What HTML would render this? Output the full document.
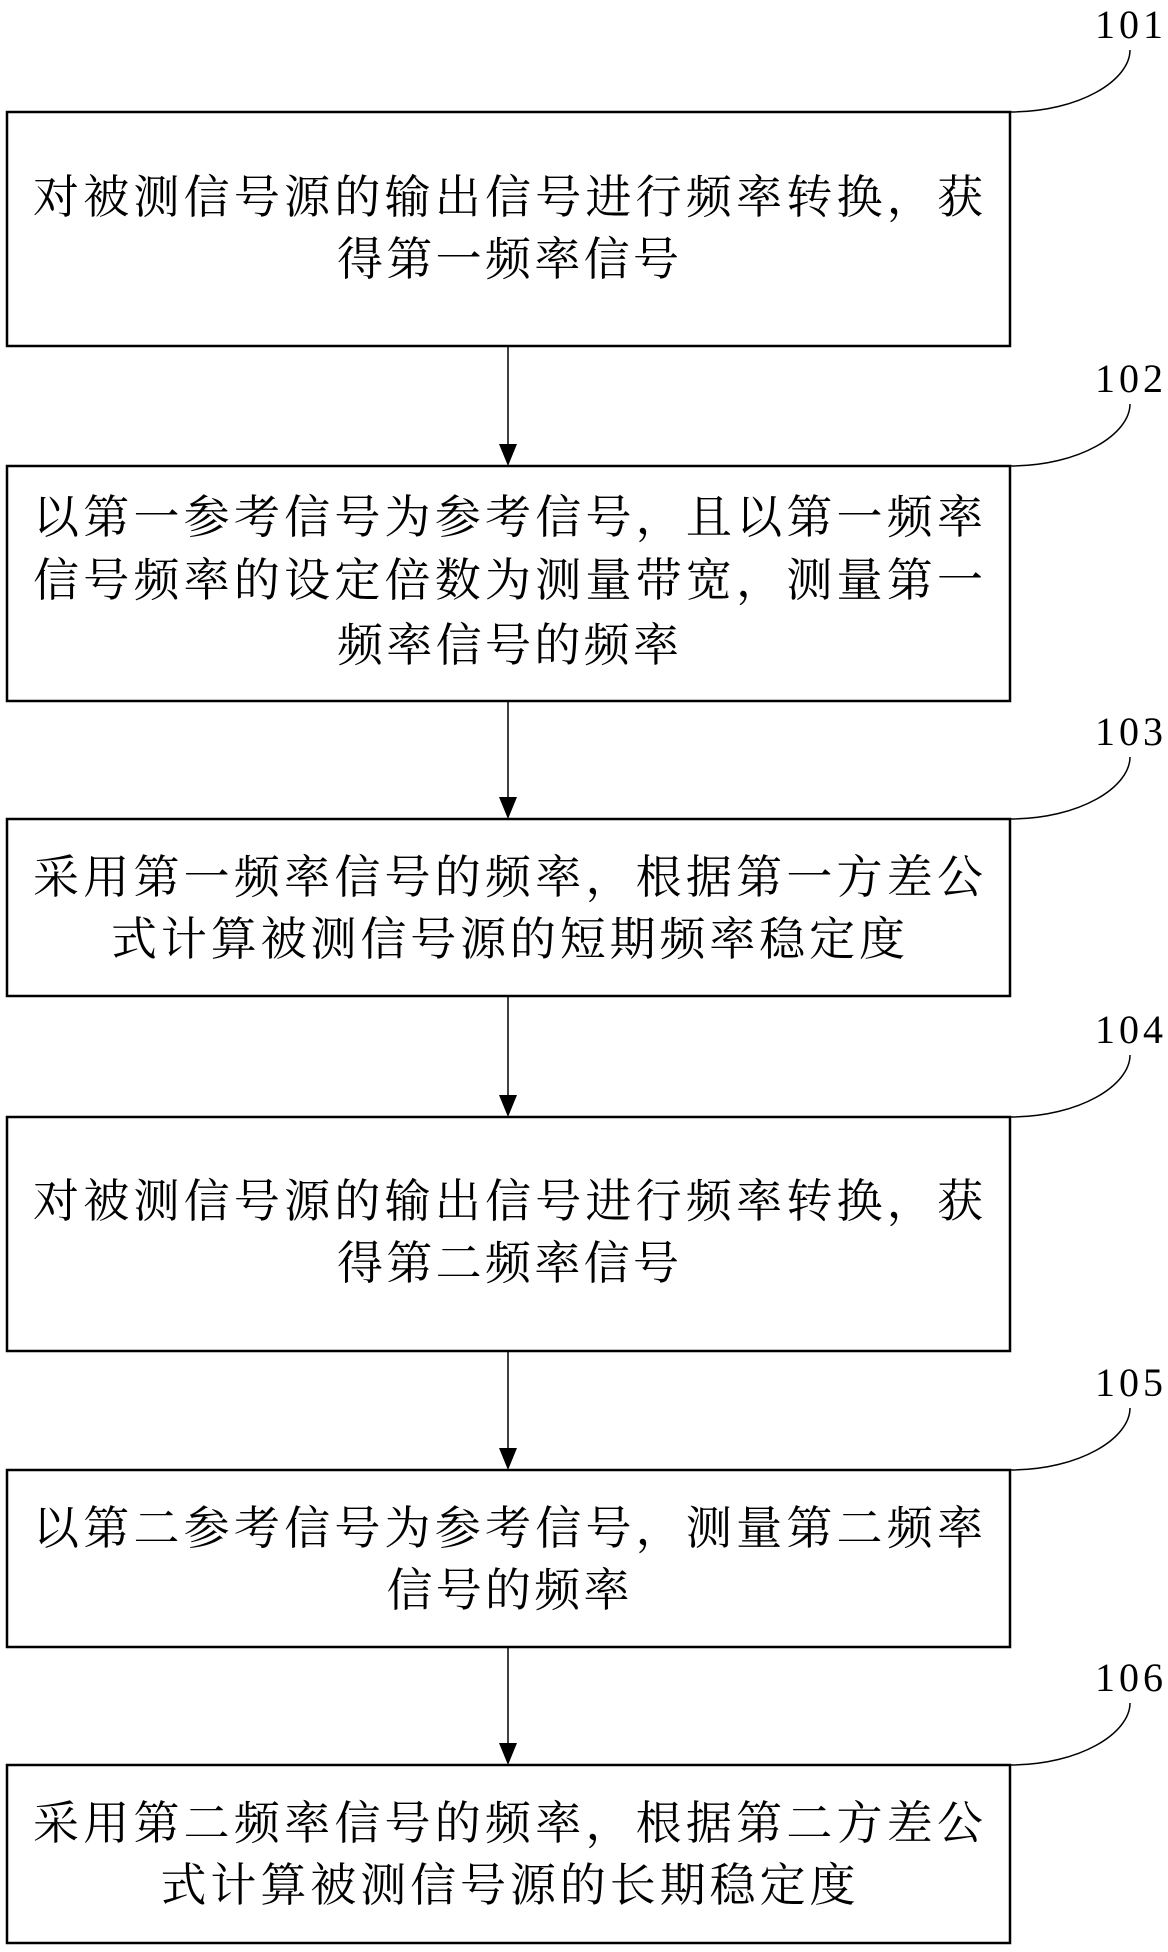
<!DOCTYPE html>
<html><head><meta charset="utf-8"><style>
html,body{margin:0;padding:0;background:#fff}
svg{display:block}
.t{font-family:"Liberation Serif","Noto Serif CJK SC",serif;font-size:46px;fill:#000;text-anchor:middle}
.n{font-family:"Liberation Serif",serif;font-size:40px;fill:#000}
</style></head><body>
<svg width="1168" height="1952" viewBox="0 0 1168 1952" xmlns="http://www.w3.org/2000/svg">
<g fill="none" stroke="#000">
<rect x="7" y="112" width="1003" height="234" stroke-width="2.5"/>
<rect x="7" y="466" width="1003" height="235" stroke-width="2.5"/>
<rect x="7" y="819" width="1003" height="177" stroke-width="2.5"/>
<rect x="7" y="1117" width="1003" height="234" stroke-width="2.5"/>
<rect x="7" y="1470" width="1003" height="177" stroke-width="2.5"/>
<rect x="7" y="1765" width="1003" height="178" stroke-width="2.5"/>
<path d="M508 346V444 M508 701V797 M508 996V1095 M508 1351V1448 M508 1647V1743" stroke-width="1.5"/>
<path d="M1010 112 C1080 112 1130 80 1130 50" stroke-width="1.5"/>
<path d="M1010 466 C1080 466 1130 434 1130 404" stroke-width="1.5"/>
<path d="M1010 819 C1080 819 1130 787 1130 757" stroke-width="1.5"/>
<path d="M1010 1117 C1080 1117 1130 1085 1130 1055" stroke-width="1.5"/>
<path d="M1010 1470 C1080 1470 1130 1438 1130 1408" stroke-width="1.5"/>
<path d="M1010 1765 C1080 1765 1130 1733 1130 1703" stroke-width="1.5"/>
</g>
<g fill="#000">
<path d="M499 444H517L508 466Z"/>
<path d="M499 797H517L508 819Z"/>
<path d="M499 1095H517L508 1117Z"/>
<path d="M499 1448H517L508 1470Z"/>
<path d="M499 1743H517L508 1765Z"/>
</g>
<g class="n">
<text x="1095" y="38" textLength="68">101</text>
<text x="1095" y="392" textLength="68">102</text>
<text x="1095" y="745" textLength="68">103</text>
<text x="1095" y="1043" textLength="68">104</text>
<text x="1095" y="1396" textLength="68">105</text>
<text x="1095" y="1691" textLength="68">106</text>
</g>
<g class="t">
<text x="508" y="213" textLength="950">对被测信号源的输出信号进行频率转换，获</text>
<text x="508" y="275" textLength="342">得第一频率信号</text>
<text x="508" y="533" textLength="950">以第一参考信号为参考信号，且以第一频率</text>
<text x="508" y="596" textLength="950">信号频率的设定倍数为测量带宽，测量第一</text>
<text x="508" y="661" textLength="342">频率信号的频率</text>
<text x="508" y="893" textLength="950">采用第一频率信号的频率，根据第一方差公</text>
<text x="508" y="955" textLength="794">式计算被测信号源的短期频率稳定度</text>
<text x="508" y="1217" textLength="950">对被测信号源的输出信号进行频率转换，获</text>
<text x="508" y="1279" textLength="342">得第二频率信号</text>
<text x="508" y="1544" textLength="950">以第二参考信号为参考信号，测量第二频率</text>
<text x="508" y="1606" textLength="243">信号的频率</text>
<text x="508" y="1839" textLength="950">采用第二频率信号的频率，根据第二方差公</text>
<text x="508" y="1901" textLength="695">式计算被测信号源的长期稳定度</text>
</g>
</svg>
</body></html>
